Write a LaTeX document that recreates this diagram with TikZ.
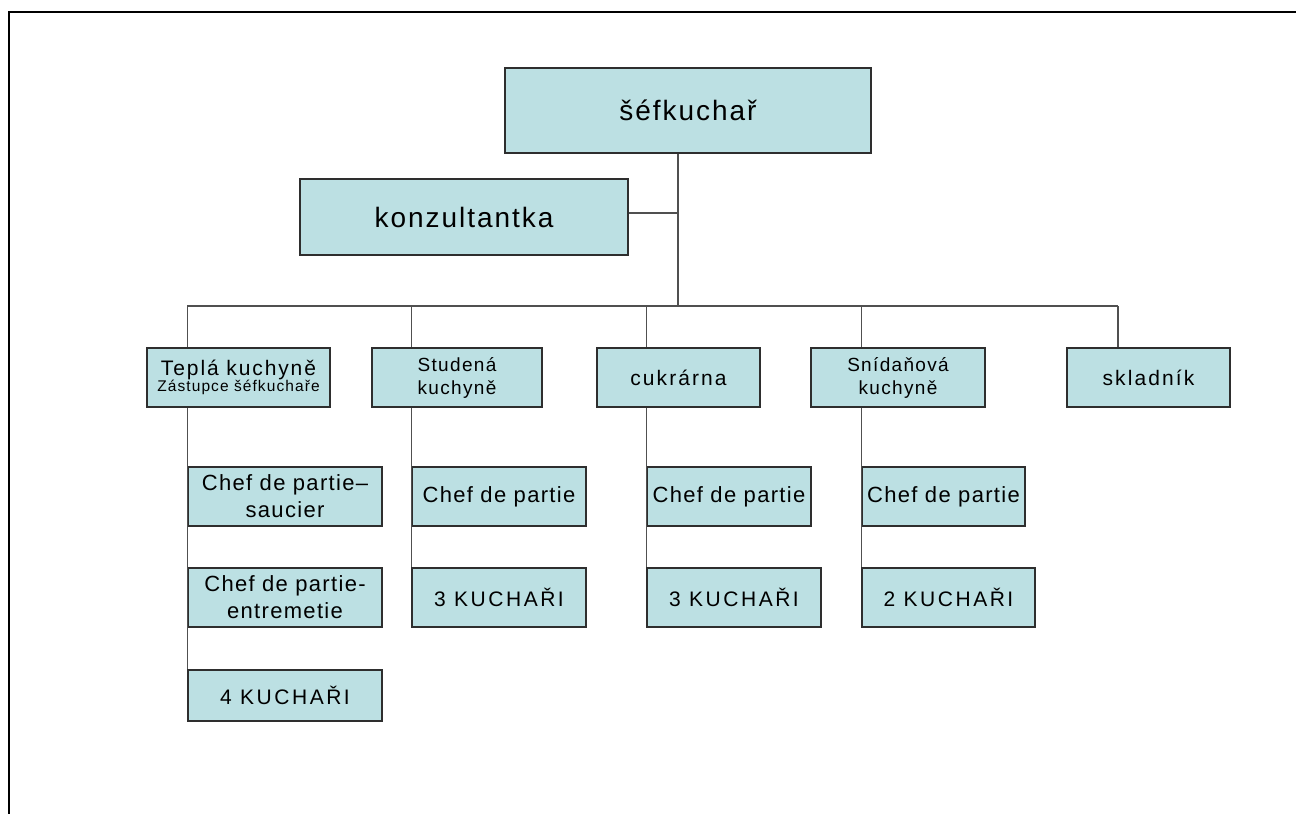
\documentclass[tikz,border=0pt]{standalone}
\usepackage{fontspec}
\setmainfont{Liberation Sans}
\definecolor{boxfill}{HTML}{BCE0E3}
\definecolor{boxline}{HTML}{2E2E2E}
\definecolor{conn}{HTML}{505050}
\tikzset{
  box/.style={draw=boxline, line width=1.4pt, fill=boxfill, inner sep=0pt, align=center, text=black},
  conline/.style={draw=conn, line width=1.2pt},
  fbig/.style={font={\fontsize{28}{32}\selectfont\addfontfeatures{LetterSpace=7}}},
  fmid/.style={font={\fontsize{21}{23}\selectfont\addfontfeatures{LetterSpace=10}}},
  fsmall/.style={font={\fontsize{19}{23}\selectfont\addfontfeatures{LetterSpace=7}}},
  fchef/.style={font={\fontsize{22}{27}\selectfont\addfontfeatures{LetterSpace=6}}},
  fkuch/.style={font={\fontsize{21}{24}\selectfont\addfontfeatures{LetterSpace=12}}},
}
\begin{document}
\begin{tikzpicture}[x=1pt,y=-1pt]
\useasboundingbox (0,0) rectangle (1296,814);
% frame
\draw[line width=2pt, black] (9,814) -- (9,12) -- (1296,12);
% top level
\node[box, fbig, minimum width=366pt, minimum height=85pt] (chef) at (688,110.5) {šéfkuchař};
\node[box, fbig, minimum width=328pt, minimum height=76pt] (konz) at (464,217) {konzultantka};
% level 2
\node[box, minimum width=183pt, minimum height=59pt] (tepla) at (238.5,377.5)
  {{\fontsize{21}{22}\selectfont\addfontfeatures{LetterSpace=9}Teplá kuchyně}\\[-1pt]{\fontsize{15.5}{17}\selectfont\addfontfeatures{LetterSpace=7}Zástupce šéfkuchaře}};
\node[box, fsmall, minimum width=170pt, minimum height=59pt] (stud) at (457,377.5) {Studená\\kuchyně};
\node[box, fmid, minimum width=163pt, minimum height=59pt] (cukr) at (678.5,377.5) {cukrárna};
\node[box, fsmall, minimum width=174pt, minimum height=59pt] (snid) at (898,377.5) {Snídaňová\\kuchyně};
\node[box, fmid, minimum width=163pt, minimum height=59pt] (sklad) at (1148.5,377.5) {skladník};
% level 3
\node[box, fchef, minimum width=194pt, minimum height=59pt] (t1) at (285,496.5) {Chef de partie–\\saucier};
\node[box, fchef, minimum width=194pt, minimum height=59pt] (t2) at (285,597.5) {Chef de partie-\\entremetie};
\node[box, fkuch, minimum width=194pt, minimum height=51pt] (t3) at (285,695.5) {4 KUCHAŘI};
\node[box, fchef, minimum width=174pt, minimum height=59pt] (s1) at (499,496.5) {Chef de partie};
\node[box, fkuch, minimum width=174pt, minimum height=59pt] (s2) at (499,597.5) {3 KUCHAŘI};
\node[box, fchef, minimum width=164pt, minimum height=59pt] (c1) at (729,496.5) {Chef de partie};
\node[box, fkuch, minimum width=174pt, minimum height=59pt] (c2) at (734,597.5) {3 KUCHAŘI};
\node[box, fchef, minimum width=163pt, minimum height=59pt] (n1) at (943.5,496.5) {Chef de partie};
\node[box, fkuch, minimum width=173pt, minimum height=59pt] (n2) at (948.5,597.5) {2 KUCHAŘI};
% connectors
\coordinate (bus) at (678,306);
\coordinate (skdrop) at ([xshift=-30.5pt]sklad.north);
\draw[conline] (chef.south -| bus) -- (bus);
\draw[conline] ([yshift=4pt]konz.east) -- ([yshift=4pt]konz.east -| bus);
\draw[conline] (bus -| t1.west) -- (bus -| skdrop);
\draw[conline] (bus -| t1.west) -- (tepla.north -| t1.west);
\draw[conline] (bus -| s1.west) -- (stud.north -| s1.west);
\draw[conline] (bus -| c1.west) -- (cukr.north -| c1.west);
\draw[conline] (bus -| n1.west) -- (snid.north -| n1.west);
\draw[conline] (bus -| skdrop) -- (skdrop);
\draw[conline] (tepla.south -| t1.west) -- (t3.north west);
\draw[conline] (stud.south -| s1.west) -- (s2.north west);
\draw[conline] (cukr.south -| c1.west) -- (c2.north west);
\draw[conline] (snid.south -| n1.west) -- (n2.north west);
\end{tikzpicture}
\end{document}
